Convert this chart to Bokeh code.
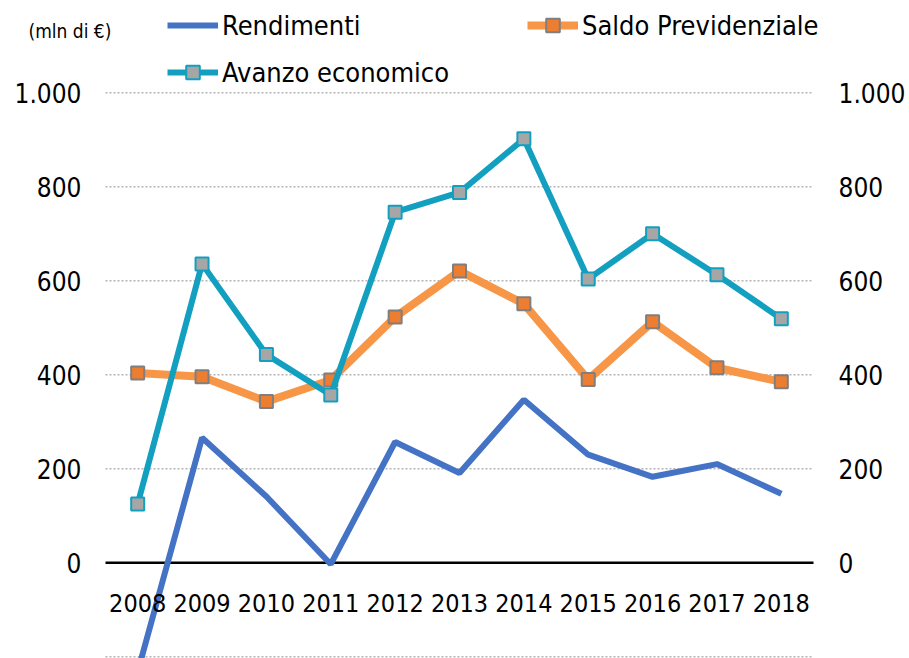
from bokeh.plotting import figure
from bokeh.models import FactorRange, Range1d, Legend, LegendItem, Label, ColumnDataSource
from bokeh.core.properties import value
from bokeh.embed import file_html
from bokeh.resources import INLINE

years = ["2008", "2009", "2010", "2011", "2012", "2013", "2014", "2015", "2016", "2017", "2018"]
rendimenti = [-232, 266, 141, -3, 257, 191, 347, 230, 183, 210, 147]
saldo = [404, 396, 343, 389, 523, 621, 551, 390, 513, 415, 385]
avanzo = [125, 636, 443, 357, 746, 788, 902, 604, 700, 613, 519]
y_ticks = [0, 200, 400, 600, 800, 1000]
y_tick_labels = ["0", "200", "400", "600", "800", "1.000"]
grid_values = [-200, 200, 400, 600, 800, 1000]
unit_label = "(mln di €)"

FONT = "DejaVu Sans Condensed"

# geometry (pixels): category bins span 105..813, figure 909x658
W, H = 909, 658
FRAME_LEFT = 9
BIN = (813 - 105) / len(years)
PAD = (105 - FRAME_LEFT) / BIN          # padding on each side, in category units
Y_PER_PX = 1 / 0.47
ZERO_PX = 562.3

p = figure(width=W, height=H,
           x_range=FactorRange(*years, range_padding=PAD, range_padding_units="absolute"),
           y_range=Range1d((ZERO_PX - H) * Y_PER_PX, ZERO_PX * Y_PER_PX),
           output_backend="svg", toolbar_location=None,
           x_axis_location=None, y_axis_location=None,
           min_border_left=FRAME_LEFT, min_border_right=0, min_border_top=0, min_border_bottom=0)
p.outline_line_color = None
p.background_fill_color = "white"
p.grid.visible = False

first, last = years[0], years[-1]
left_edge = (first, -0.5)
right_edge = (last, 0.5)

# dotted horizontal gridlines
p.segment(x0=[left_edge] * len(grid_values), x1=[right_edge] * len(grid_values),
          y0=grid_values, y1=grid_values,
          line_color="#b4b4b4", line_dash="2 2", line_width=1.5)
# zero line
p.segment(x0=[left_edge], x1=[right_edge], y0=[0], y1=[0], line_color="black", line_width=2.5)

src = ColumnDataSource(dict(x=years, r=rendimenti, s=saldo, a=avanzo,
                            ly=[-85] * len(years)))

r_line = p.line("x", "r", source=src, line_color="#4472C4", line_width=6)
s_line = p.line("x", "s", source=src, line_color="#F79646", line_width=8)
s_pts = p.scatter("x", "s", source=src, marker="square", size=13, fill_color="#ED7D31",
                  line_color="#7F7F7F", line_width=2)
a_line = p.line("x", "a", source=src, line_color="#13A0C0", line_width=6)
a_pts = p.scatter("x", "a", source=src, marker="square", size=13, fill_color="#A6A6A6",
                  line_color="#13A0C0", line_width=2)

# category labels under the zero line
p.text("x", "ly", text="x", source=src, text_align="center", text_baseline="middle",
       text_font=value(FONT), text_font_size="25px", text_color="black")

# left and right value-axis labels
left_off = -0.5 - 24 / BIN
right_off = 0.5 + 25 / BIN
p.text(x=[(first, left_off)] * len(y_ticks), y=y_ticks, text=y_tick_labels,
       text_align="right", text_baseline="middle",
       text_font=value(FONT), text_font_size="26px", text_color="black")
p.text(x=[(last, right_off)] * len(y_ticks), y=y_ticks, text=y_tick_labels,
       text_align="left", text_baseline="middle",
       text_font=value(FONT), text_font_size="26px", text_color="black")

legend = Legend(items=[LegendItem(label="Rendimenti", renderers=[r_line]),
                       LegendItem(label="Saldo Previdenziale", renderers=[s_line, s_pts]),
                       LegendItem(label="Avanzo economico", renderers=[a_line, a_pts])],
                orientation="horizontal", ncols=2, location=(167 - FRAME_LEFT, H - 8 - 81))
legend.border_line_color = None
legend.background_fill_alpha = 0
legend.padding = 0
legend.margin = 0
legend.spacing = 13
legend.label_height = 34
legend.glyph_height = 34
legend.glyph_width = 51
legend.label_width = 292
legend.label_standoff = 4
legend.label_text_font = FONT
legend.label_text_font_size = "27px"
legend.label_text_color = "black"
p.add_layout(legend)

p.add_layout(Label(x=28 - FRAME_LEFT, y=H - 30, x_units="screen", y_units="screen",
                   text=unit_label, text_font=FONT, text_font_size="19px",
                   text_baseline="middle", text_color="black"))

open("out.html", "w").write(file_html(p, INLINE))
